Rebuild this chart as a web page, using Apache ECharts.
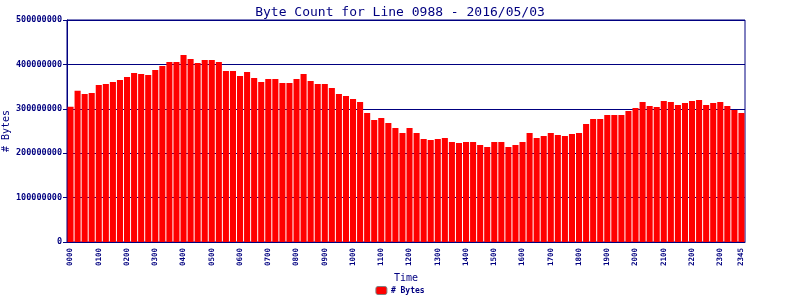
<!DOCTYPE html>
<html>
<head>
<meta charset="utf-8">
<script src="https://cdn.jsdelivr.net/npm/echarts@6/dist/echarts.min.js"></script>
<style>html,body{margin:0;padding:0;background:#fff}#c{width:800px;height:300px}</style>
</head>
<body>
<div id="c"></div>
<script>
const titleText = 'Byte Count for Line 0988 - 2016/05/03';
const seriesName = '# Bytes';
const categories = [
 '0000','0015','0030','0045','0100','0115','0130','0145','0200','0215','0230','0245',
 '0300','0315','0330','0345','0400','0415','0430','0445','0500','0515','0530','0545',
 '0600','0615','0630','0645','0700','0715','0730','0745','0800','0815','0830','0845',
 '0900','0915','0930','0945','1000','1015','1030','1045','1100','1115','1130','1145',
 '1200','1215','1230','1245','1300','1315','1330','1345','1400','1415','1430','1445',
 '1500','1515','1530','1545','1600','1615','1630','1645','1700','1715','1730','1745',
 '1800','1815','1830','1845','1900','1915','1930','1945','2000','2015','2030','2045',
 '2100','2115','2130','2145','2200','2215','2230','2245','2300','2315','2330','2345'
];
const byteValues = [
 304700000,340800000,333300000,335600000,353600000,355900000,360400000,364900000,
 371600000,380600000,378400000,376100000,387400000,396400000,405400000,405400000,
 421200000,412200000,403200000,409900000,409900000,405400000,385100000,385100000,
 373900000,382900000,369400000,360400000,367100000,367100000,358100000,358100000,
 367100000,378400000,362600000,355900000,355900000,346900000,333300000,328800000,
 322100000,315300000,290500000,274800000,279300000,268000000,256800000,245500000,
 256800000,245500000,232000000,229700000,232000000,234200000,225200000,223000000,
 225200000,225200000,218500000,214000000,225200000,225200000,214000000,218500000,
 225200000,245500000,234200000,238700000,245500000,241000000,238700000,243200000,
 245500000,265800000,277000000,277000000,286000000,286000000,286000000,295000000,
 301800000,315300000,306300000,304000000,317600000,315300000,308600000,313100000,
 317600000,319800000,308600000,313100000,315300000,306300000,297300000,290500000
];
const yMin = 0, yMax = 500000000, yStep = 100000000;

const navy = '#000080';
const mono = '"DejaVu Sans Mono", "Liberation Mono", monospace';
const chart = echarts.init(document.getElementById('c'), null, {renderer: 'canvas'});
chart.setOption({
  animation: false,
  backgroundColor: '#ffffff',
  title: {
    text: titleText, left: 'center', top: 1,
    textStyle: {fontFamily: mono, fontSize: 13, fontWeight: 'normal', color: navy}
  },
  legend: {
    data: [seriesName], bottom: 0, left: 'center',
    itemWidth: 11, itemHeight: 8, itemGap: 4,
    itemStyle: {borderColor: '#808080', borderWidth: 1},
    textStyle: {fontFamily: mono, fontSize: 8, fontWeight: 'bold', color: navy, padding: [0,0,0,-1]}
  },
  grid: {left: 67, right: 55, top: 20, bottom: 58, show: true, borderColor: navy, borderWidth: 1,
         containLabel: false, outerBoundsMode: 'none'},
  xAxis: {
    type: 'category', data: categories,
    name: 'Time', nameLocation: 'middle', nameGap: 31, nameMoveOverlap: false,
    nameTextStyle: {fontFamily: mono, fontSize: 10, color: navy},
    axisLine: {lineStyle: {color: navy, width: 1}},
    axisTick: {show: false},
    axisLabel: {
      rotate: 90, margin: 6, fontFamily: mono, fontSize: 7.5, fontWeight: 'bold', color: navy,
      interval: function (i) { return i % 4 === 0 || i === categories.length - 1; }
    }
  },
  yAxis: {
    type: 'value', min: yMin, max: yMax, interval: yStep,
    name: seriesName, nameLocation: 'middle', nameGap: 56, nameMoveOverlap: false,
    nameTextStyle: {fontFamily: mono, fontSize: 10, color: navy},
    axisLine: {show: true, lineStyle: {color: navy, width: 1}},
    axisTick: {show: true, length: 4, lineStyle: {color: navy}},
    splitLine: {show: true, lineStyle: {color: navy, width: 1}},
    axisLabel: {margin: 5, fontFamily: mono, fontSize: 8.5, fontWeight: 'bold', color: navy,
      formatter: function (v) { return String(v); }}
  },
  series: [{
    name: seriesName, type: 'bar', data: byteValues,
    barCategoryGap: '14%',
    itemStyle: {color: '#ff0000'}
  }]
});
</script>
</body>
</html>
